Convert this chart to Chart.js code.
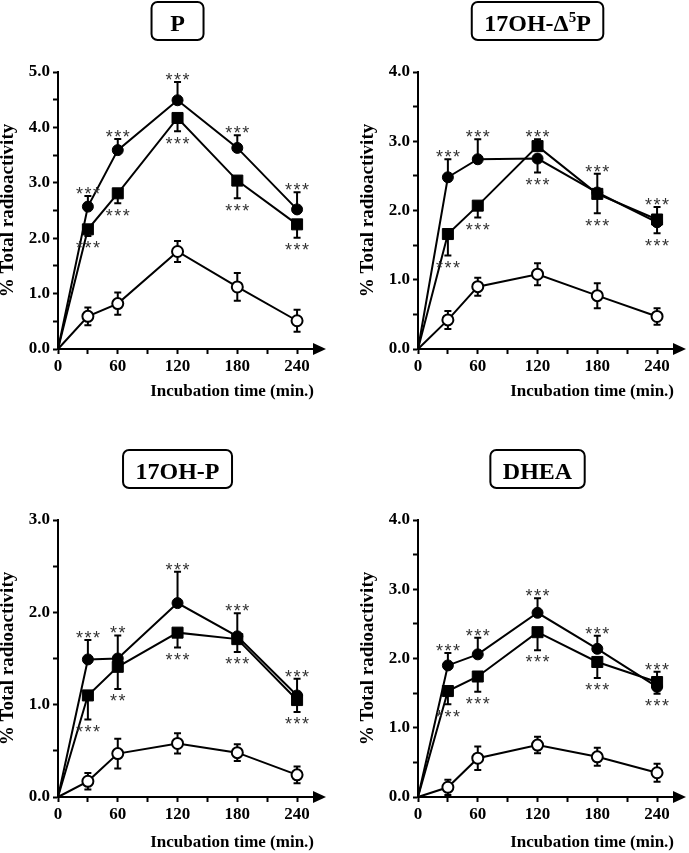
<!DOCTYPE html>
<html>
<head>
<meta charset="utf-8">
<script src="https://cdn.jsdelivr.net/npm/chart.js@4.4.1/dist/chart.umd.min.js"></script>
<style>
  html, body { margin: 0; padding: 0; background: #fff; overflow: hidden; }
  body { width: 689px; height: 853px; position: relative; }
  canvas { position: absolute; }
  #panelP { left: -15px; top: 0; }
  #panelD5P { left: 345px; top: 0; }
  #panelOHP { left: -15px; top: 448px; }
  #panelDHEA { left: 345px; top: 448px; }
</style>
</head>
<body>
<canvas id="panelP" width="360" height="410"></canvas>
<canvas id="panelD5P" width="360" height="410"></canvas>
<canvas id="panelOHP" width="360" height="410"></canvas>
<canvas id="panelDHEA" width="360" height="410"></canvas>
<script>
// ===================================
// DATA
// ===================================
const times = [0, 30, 60, 120, 180, 240];
const xTicks = [0, 30, 60, 90, 120, 150, 180, 210, 240];
const xTitle = "Incubation time (min.)";
const yTitle = "% Total radioactivity";

// P
const pCircle = [0, 2.57, 3.59, 4.49, 3.63, 2.52];
const pCircleErr = [0, 0.19, 0.2, 0.33, 0.23, 0.31];
const pSquare = [0, 2.16, 2.81, 4.17, 3.04, 2.25];
const pSquareErr = [0, -0.12, -0.18, -0.24, -0.32, -0.24];
const pOpen = [0, 0.59, 0.82, 1.76, 1.12, 0.51];
const pOpenErr = [0, 0.16, 0.2, 0.19, 0.25, 0.2];
const pCircleStars = ["", "***", "***", "***", "***", "***"];
const pSquareStars = ["", "***", "***", "***", "***", "***"];

// 17OH-Δ5P
const dCircle = [0, 2.48, 2.74, 2.75, 2.26, 1.83];
const dCircleErr = [0, 0.26, 0.29, -0.2, 0.27, -0.16];
const dSquare = [0, 1.66, 2.07, 2.93, 2.24, 1.87];
const dSquareErr = [0, -0.31, -0.17, 0.1, -0.28, 0.18];
const dOpen = [0, 0.42, 0.9, 1.08, 0.77, 0.47];
const dOpenErr = [0, 0.13, 0.13, 0.16, 0.18, 0.12];
const dCircleStars = ["", "***", "***", "***", "***", "***"];
const dSquareStars = ["", "***", "***", "***", "***", "***"];

// 17OH-P
const oCircle = [0, 1.49, 1.5, 2.1, 1.74, 1.1];
const oCircleErr = [0, 0.21, 0.25, 0.34, 0.25, 0.18];
const oSquare = [0, 1.1, 1.41, 1.78, 1.71, 1.05];
const oSquareErr = [0, -0.26, -0.24, -0.16, -0.14, -0.13];
const oOpen = [0, 0.17, 0.47, 0.58, 0.48, 0.24];
const oOpenErr = [0, 0.09, 0.16, 0.11, 0.09, 0.09];
const oCircleStars = ["", "***", "**", "***", "***", "***"];
const oSquareStars = ["", "***", "**", "***", "***", "***"];

// DHEA
const hCircle = [0, 1.9, 2.06, 2.66, 2.14, 1.59];
const hCircleErr = [0, 0.18, 0.24, 0.21, 0.19, -0.1];
const hSquare = [0, 1.53, 1.74, 2.38, 1.95, 1.66];
const hSquareErr = [0, -0.19, -0.22, -0.26, -0.23, 0.15];
const hOpen = [0, 0.14, 0.56, 0.75, 0.58, 0.35];
const hOpenErr = [0, 0.11, 0.17, 0.12, 0.13, 0.13];
const hCircleStars = ["", "***", "***", "***", "***", "***"];
const hSquareStars = ["", "***", "***", "***", "***", "***"];

const FONT = "'Liberation Serif', 'Times New Roman', serif";
const STAR_FONT = "'Liberation Sans', Arial, sans-serif";

// ===================================
// PLUGIN: error bars, stars, arrow, title box
// ===================================
const panelExtras = {
  id: "panelExtras",
  beforeDatasetsDraw(chart) {
    const { ctx, scales: { x, y } } = chart;
    ctx.save();
    ctx.strokeStyle = "#000";
    ctx.lineWidth = 2;
    chart.data.datasets.forEach((ds) => {
      ds.errors.forEach((err, i) => {
        if (!err) return;
        const px = x.getPixelForValue(times[i]);
        const ends = ds.twoSided ? [ds.values[i] + err, ds.values[i] - err] : [ds.values[i] + err];
        ends.forEach((v) => {
          const py = y.getPixelForValue(v);
          ctx.beginPath();
          ctx.moveTo(px, y.getPixelForValue(ds.values[i]));
          ctx.lineTo(px, py);
          ctx.moveTo(px - 3.5, py);
          ctx.lineTo(px + 3.5, py);
          ctx.stroke();
        });
      });
    });
    ctx.restore();
  },
  afterDatasetsDraw(chart) {
    const { ctx, scales: { x, y } } = chart;
    ctx.save();
    ctx.fillStyle = "#333";
    ctx.font = "18px " + STAR_FONT;
    ctx.textAlign = "center";
    ctx.textBaseline = "alphabetic";
    ctx.letterSpacing = "1.5px";
    chart.data.datasets.forEach((ds) => {
      if (!ds.stars) return;
      ds.stars.forEach((s, i) => {
        if (!s) return;
        const err = ds.errors[i];
        const px = x.getPixelForValue(times[i]) + 0.75;
        const py = y.getPixelForValue(ds.values[i] + err);
        const by = err >= 0 ? py + 4 : py + 18.3;
        ctx.fillText(s, px, by);
      });
    });
    ctx.restore();
  },
  afterDraw(chart) {
    const { ctx, chartArea, scales: { x } } = chart;
    ctx.save();
    // x axis arrow head
    ctx.fillStyle = "#000";
    ctx.beginPath();
    ctx.moveTo(chartArea.right - 1, chartArea.bottom - 6);
    ctx.lineTo(chartArea.right + 12, chartArea.bottom);
    ctx.lineTo(chartArea.right - 1, chartArea.bottom + 6);
    ctx.closePath();
    ctx.fill();
    // title box
    const parts = chart.options.plugins.panelExtras.title;
    const big = "bold 24px " + FONT;
    const small = "bold 15px " + FONT;
    let w = 0;
    parts.forEach((p) => {
      ctx.font = p.sup ? small : big;
      w += ctx.measureText(p.text).width;
    });
    const cx = x.getPixelForValue(120);
    const bw = Math.max(w + 25, 52);
    const bx = cx - bw / 2;
    const by = 2;
    ctx.strokeStyle = "#000";
    ctx.lineWidth = 2;
    ctx.beginPath();
    ctx.roundRect(bx, by, bw, 38, 6);
    ctx.stroke();
    let tx = cx - w / 2;
    ctx.textBaseline = "alphabetic";
    ctx.textAlign = "left";
    parts.forEach((p) => {
      ctx.font = p.sup ? small : big;
      ctx.fillText(p.text, tx, p.sup ? by + 20 : by + 29);
      tx += ctx.measureText(p.text).width;
    });
    ctx.restore();
  }
};

// ===================================
// CHART BUILDING
// ===================================
function series(values, errors, stars, style, fill, twoSided) {
  return {
    data: times.map((t, i) => ({ x: t, y: values[i] })),
    values: values,
    errors: errors,
    stars: stars,
    twoSided: twoSided,
    borderColor: "#000",
    borderWidth: 2,
    tension: 0,
    pointStyle: style,
    pointRadius: times.map((t) => (t === 0 ? 0 : style === "rect" ? 7.8 : 5.5)),
    pointBackgroundColor: fill,
    pointBorderColor: "#000",
    pointBorderWidth: fill === "#fff" ? 2 : 1,
    clip: false
  };
}

function buildPanel(id, titleParts, yMax, sets, xTitlePad) {
  new Chart(document.getElementById(id), {
    type: "line",
    data: { datasets: sets },
    options: {
      responsive: false,
      animation: false,
      events: [],
      layout: { padding: { top: 72, right: 31, bottom: 0, left: 0 } },
      plugins: {
        legend: { display: false },
        tooltip: { enabled: false },
        panelExtras: { title: titleParts }
      },
      scales: {
        x: {
          type: "linear",
          min: 0,
          max: 257,
          afterBuildTicks: (axis) => { axis.ticks = xTicks.map((v) => ({ value: v })); },
          afterFit: (scale) => { scale.height = 61; },
          ticks: {
            autoSkip: false,
            maxRotation: 0,
            padding: 2,
            color: "#000",
            font: { family: FONT, size: 17, weight: "bold" },
            callback: (v) => (v % 60 === 0 ? String(v) : "")
          },
          grid: { drawOnChartArea: false, drawTicks: true, tickLength: 5, tickWidth: 2, tickColor: "#000" },
          border: { color: "#000", width: 2 },
          title: {
            display: true,
            text: xTitle,
            align: "end",
            color: "#000",
            font: { family: FONT, size: 17, weight: "bold", lineHeight: 1 },
            padding: { top: 0, bottom: xTitlePad }
          }
        },
        y: {
          min: 0,
          max: yMax,
          afterFit: (scale) => { scale.width = 73; },
          ticks: {
            stepSize: 0.5,
            autoSkip: false,
            padding: 3,
            color: "#000",
            font: { family: FONT, size: 17, weight: "bold" },
            callback: (v) => (Math.abs(v % 1) < 1e-9 ? v.toFixed(1) : "")
          },
          grid: { drawOnChartArea: false, drawTicks: true, tickLength: 5, tickWidth: 2, tickColor: "#000" },
          border: { color: "#000", width: 2 },
          title: {
            display: true,
            text: yTitle,
            color: "#000",
            font: { family: FONT, size: 19, weight: "bold", lineHeight: 1 },
            padding: { top: 14, bottom: 0 }
          }
        }
      }
    },
    plugins: [panelExtras]
  });
}

document.addEventListener("DOMContentLoaded", function () {
  buildPanel("panelP", [{ text: "P" }], 5, [
    series(pOpen, pOpenErr, null, "circle", "#fff", true),
    series(pSquare, pSquareErr, pSquareStars, "rect", "#000", false),
    series(pCircle, pCircleErr, pCircleStars, "circle", "#000", false)
  ], 9.5);
  buildPanel("panelD5P", [{ text: "17OH-Δ" }, { text: "5", sup: true }, { text: "P" }], 4, [
    series(dOpen, dOpenErr, null, "circle", "#fff", true),
    series(dSquare, dSquareErr, dSquareStars, "rect", "#000", false),
    series(dCircle, dCircleErr, dCircleStars, "circle", "#000", false)
  ], 9.5);
  buildPanel("panelOHP", [{ text: "17OH-P" }], 3, [
    series(oOpen, oOpenErr, null, "circle", "#fff", true),
    series(oSquare, oSquareErr, oSquareStars, "rect", "#000", false),
    series(oCircle, oCircleErr, oCircleStars, "circle", "#000", false)
  ], 6.8);
  buildPanel("panelDHEA", [{ text: "DHEA" }], 4, [
    series(hOpen, hOpenErr, null, "circle", "#fff", true),
    series(hSquare, hSquareErr, hSquareStars, "rect", "#000", false),
    series(hCircle, hCircleErr, hCircleStars, "circle", "#000", false)
  ], 6.8);
});
</script>
</body>
</html>
